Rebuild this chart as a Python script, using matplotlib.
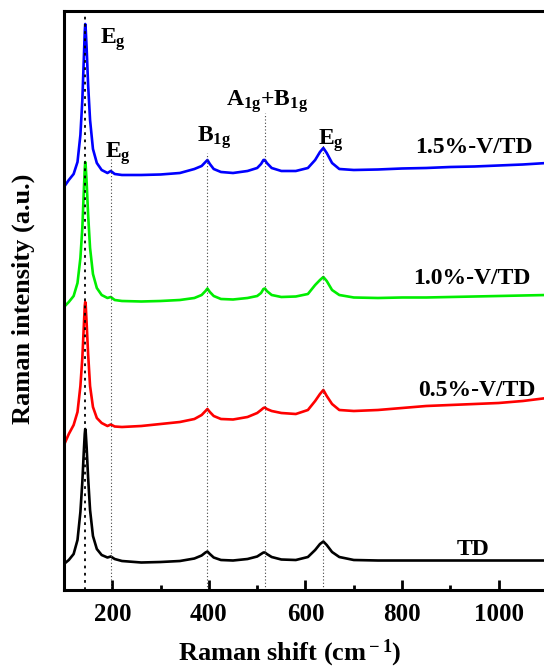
import matplotlib
matplotlib.use("Agg")
import matplotlib.pyplot as plt
from matplotlib.ticker import MultipleLocator

plt.rcParams['font.family'] = ['Liberation Serif', 'DejaVu Serif']
plt.rcParams['font.weight'] = 'bold'
plt.rcParams['axes.labelweight'] = 'bold'
plt.rcParams['mathtext.fontset'] = 'custom'
plt.rcParams['mathtext.rm'] = 'Liberation Serif:bold'
plt.rcParams['mathtext.bf'] = 'Liberation Serif:bold'
plt.rcParams['mathtext.it'] = 'Liberation Serif:bold:italic'

# Raman shift sample positions (cm-1), shared by all spectra
shift = [100, 110, 120, 128, 134, 138, 141, 143, 144, 145, 147, 150, 154, 160,
         168, 178, 190, 197, 205, 220, 260, 300, 340, 370, 385, 393, 397, 402,
         410, 425, 450, 480, 500, 508, 513, 516, 520, 530, 550, 580, 605, 620,
         630, 637, 644, 655, 670, 700, 750, 800, 850, 900, 950, 1000, 1050, 1100]

# stacked intensities (a.u.)
td = [26, 30, 36, 50, 78, 108, 138, 156, 161, 158, 142, 112, 80, 54,
      41, 35, 32.5, 33.5, 31, 29, 27.5, 28, 29, 31.5, 34.5, 37.5, 38.5, 36,
      32.5, 30, 29.5, 31, 33.5, 36, 37.5, 37.5, 36, 33, 30.5, 30, 33, 40,
      46, 48.5, 45, 38, 33, 30, 29.5, 29.5, 29.5, 29.5, 29.5, 29.5, 29.5, 29.5]

v05 = [145, 156, 165, 178, 204, 232, 263, 284, 288, 285, 266, 236, 204, 183,
       172, 167, 164, 165.5, 163.5, 163, 164, 166, 168, 171, 175, 179, 181, 178,
       174, 171, 170.5, 173, 177, 180, 182, 182.5, 181, 179, 177, 176, 180, 189,
       196, 200, 194, 186, 180, 179, 180, 182, 184, 185, 186, 187, 189, 192]

v10 = [283, 288, 294, 307, 332, 362, 398, 421, 428, 424, 407, 375, 342, 316,
       302, 295, 292, 293, 290, 289, 288.5, 289, 290, 292, 295, 299, 301.5, 298,
       294, 291, 290.5, 292, 294, 297, 301, 301.5, 299, 295, 293, 293.5, 296, 305,
       310, 313, 309, 300, 295, 292.5, 292, 292.5, 292.5, 293, 293.5, 294, 294.5, 295]

v15 = [403, 410, 416, 428, 455, 490, 530, 558, 566, 561, 541, 505, 470, 441,
       427, 420, 417, 419, 416, 415, 415, 415.5, 417, 421, 424, 428, 430, 426,
       421, 418, 417, 419, 422, 426, 430, 430, 427, 422, 419, 419, 422, 430,
       438, 442, 437, 427, 421, 420, 420.5, 421.5, 422, 423, 423.5, 424.5, 425.5, 427]

spectra = [td, v05, v10, v15]
colors = ['black', '#ff0000', '#00ee00', '#0000ff']

# phonon modes: position, top of dotted guide
mode_pos = [144, 197, 397, 516, 637]
mode_top = [574, 433, 437, 477, 450]

fig = plt.figure(figsize=(5.44, 6.70), dpi=100)
ax = fig.add_axes([0.1176, 0.1194, 0.8879, 0.8642])

for y, c in zip(spectra, colors):
    ax.plot(shift, y, color=c, lw=1.9)

ax.vlines(mode_pos[0], 0, mode_top[0], colors='black', linestyles=(0, (1.5, 2.5)), lw=1.3)
ax.vlines(mode_pos[1:], 0, mode_top[1:], colors='#444444', linestyles=(0, (1, 2)), lw=0.8)

fs = 17
ax.text(174, 546, r'E$_{\rm g}$', fontsize=fs)
ax.text(185, 432, r'E$_{\rm g}$', fontsize=fs)
ax.text(376, 448, r'B$_{\rm 1g}$', fontsize=fs)
ax.text(436, 484, r'A$_{\rm 1g}$+B$_{\rm 1g}$', fontsize=fs)
ax.text(626, 445, r'E$_{\rm g}$', fontsize=fs)

ax.text(828, 437, '1.5%-V/TD', fontsize=fs)
ax.text(823, 306, '1.0%-V/TD', fontsize=fs)
ax.text(834, 194, '0.5%-V/TD', fontsize=fs)
ax.text(913, 35, 'TD', fontsize=fs)

ax.set_xlim(100, 1100)
ax.set_ylim(0, 579)
ax.xaxis.set_major_locator(MultipleLocator(200))
ax.xaxis.set_minor_locator(MultipleLocator(100))
ax.set_xticks([200, 400, 600, 800, 1000])
ax.set_yticks([])
ax.tick_params(axis='x', which='major', direction='in', length=7, width=2, labelsize=18, pad=9)
ax.tick_params(axis='x', which='minor', direction='in', length=3.5, width=2)
for s in ax.spines.values():
    s.set_linewidth(2.2)

ax.set_xlabel(r'Raman shift (cm$^{\rm -1}$)', fontsize=19, fontweight='bold')
ax.set_ylabel('Raman intensity (a.u.)', fontsize=19, fontweight='bold')
ax.xaxis.set_label_coords(0.468, -0.083)
ax.yaxis.set_label_coords(-0.06, 0.503)

fig.savefig('out.png', dpi=100)
